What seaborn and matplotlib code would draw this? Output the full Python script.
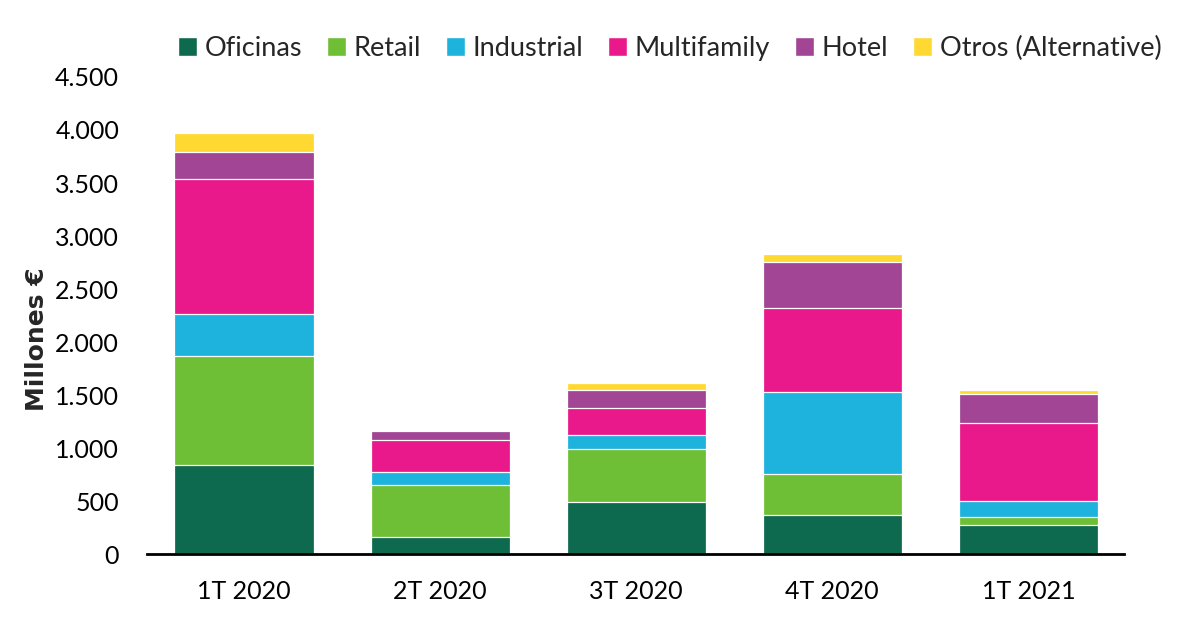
import numpy as np
import pandas as pd
import matplotlib
matplotlib.use("Agg")
import matplotlib.pyplot as plt
import seaborn as sns
from matplotlib.patches import Patch
from matplotlib.ticker import FuncFormatter

quarters = ["1T 2020", "2T 2020", "3T 2020", "4T 2020", "1T 2021"]
series_names = ["Oficinas", "Retail", "Industrial", "Multifamily", "Hotel", "Otros (Alternative)"]
oficinas = [837, 157, 491, 365, 274]
retail = [1031, 494, 497, 387, 75]
industrial = [396, 120, 135, 773, 148]
multifamily = [1271, 302, 254, 799, 739]
hotel = [255, 85, 167, 431, 273]
otros = [185, 12, 69, 72, 38]
colors = ["#0E6A4F", "#6EBE36", "#1EB3DC", "#EA198B", "#A14594", "#FFD932"]
yticks = [0, 500, 1000, 1500, 2000, 2500, 3000, 3500, 4000, 4500]

sns.set_theme(style="white")
plt.rcParams["font.family"] = ["Lato", "DejaVu Sans"]

series = [oficinas, retail, industrial, multifamily, hotel, otros]
cum = np.cumsum(np.array(series), axis=0)

fig = plt.figure(figsize=(12, 6.26), dpi=100)
ax = fig.add_axes([0.1225, 0.115, 0.8145, 0.762])

for i in range(len(series) - 1, -1, -1):
    df = pd.DataFrame({"q": quarters, "v": cum[i]})
    sns.barplot(data=df, x="q", y="v", color=colors[i], width=0.71,
                edgecolor="white", linewidth=0.9, saturation=1, ax=ax)

ax.set_xlim(-0.495, 4.49)
ax.set_ylim(0, 4500)
ax.set_yticks(yticks)
ax.yaxis.set_major_formatter(FuncFormatter(lambda v, p: f"{int(v):,}".replace(",", ".")))
ax.tick_params(axis="y", length=0, pad=20, labelsize=18, labelcolor="black")
ax.tick_params(axis="x", length=0, pad=19, labelsize=18, labelcolor="black")
ax.set_xlabel("")
ax.set_ylabel("Millones €", fontsize=18, fontweight="bold", family=["DejaVu Sans"])
ax.yaxis.set_label_coords(-0.10, 0.45)
for s in ["top", "right", "left"]:
    ax.spines[s].set_visible(False)
ax.spines["bottom"].set_color("black")
ax.spines["bottom"].set_linewidth(2)

handles = [Patch(facecolor=c, edgecolor="white", label=n) for c, n in zip(colors, series_names)]
fig.legend(handles=handles, loc="center", bbox_to_anchor=(0.558, 0.923), ncol=6, frameon=False,
           fontsize=19.5, handlelength=0.7, handleheight=0.7, handletextpad=0.3,
           columnspacing=0.9)

fig.savefig("out.png", dpi=100)
